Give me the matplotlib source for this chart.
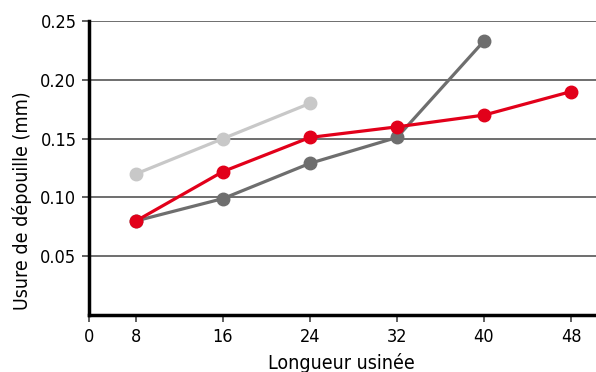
import matplotlib
matplotlib.use("Agg")
import matplotlib.pyplot as plt
import numpy as np

# x categories (machined length) and measured flank wear (mm)
lengths = [8, 16, 24, 32, 40, 48]
light_gray = [0.12, 0.15, 0.18]
dark_gray = [0.08, 0.099, 0.129, 0.151, 0.233]
red = [0.08, 0.122, 0.151, 0.16, 0.17, 0.190]
y_ticks = [0.05, 0.10, 0.15, 0.20, 0.25]

plt.rcParams['font.family'] = ['DejaVu Sans']
plt.rcParams['font.stretch'] = 'condensed'

fig = plt.figure(figsize=(5.96, 3.72), dpi=100)
ax = fig.add_axes([0.1493, 0.1532, 0.8507, 0.7903])

pos = np.arange(1, len(lengths) + 1)
zero_pos = 1 - 47 / 87.0

for y in y_ticks:
    ax.axhline(y, color='#555555', lw=1.2, zorder=1)

ax.plot(pos[:len(light_gray)], light_gray, color='#c8c8c8', lw=2.3,
        marker='o', ms=9, zorder=2)
ax.plot(pos[:len(dark_gray)], dark_gray, color='#6e6e6e', lw=2.3,
        marker='o', ms=9, zorder=3)
ax.plot(pos, red, color='#e2001a', lw=2.3, marker='o', ms=9, zorder=4)

ax.set_xlim(zero_pos, 1 + (596 - 136) / 87.0)
ax.set_ylim(0, 0.25)
ax.set_xticks([zero_pos] + list(pos))
ax.set_xticklabels(['0'] + [str(v) for v in lengths])
ax.set_yticks(y_ticks)
ax.set_yticklabels(['%.2f' % v for v in y_ticks])

for s in ['top', 'right']:
    ax.spines[s].set_visible(False)
for s in ['left', 'bottom']:
    ax.spines[s].set_linewidth(2.5)
    ax.spines[s].set_color('black')
    ax.spines[s].set_zorder(5)

ax.tick_params(axis='both', length=5, width=1.2, color='#444444',
               labelsize=13, pad=4)
ax.set_xlabel('Longueur usinée', fontsize=14)
ax.set_ylabel('Usure de dépouille (mm)', fontsize=14)
ax.xaxis.set_label_coords(0.497, -0.129)
ax.yaxis.set_label_coords(-0.112, 0.39)

fig.savefig('out.png', dpi=100)
